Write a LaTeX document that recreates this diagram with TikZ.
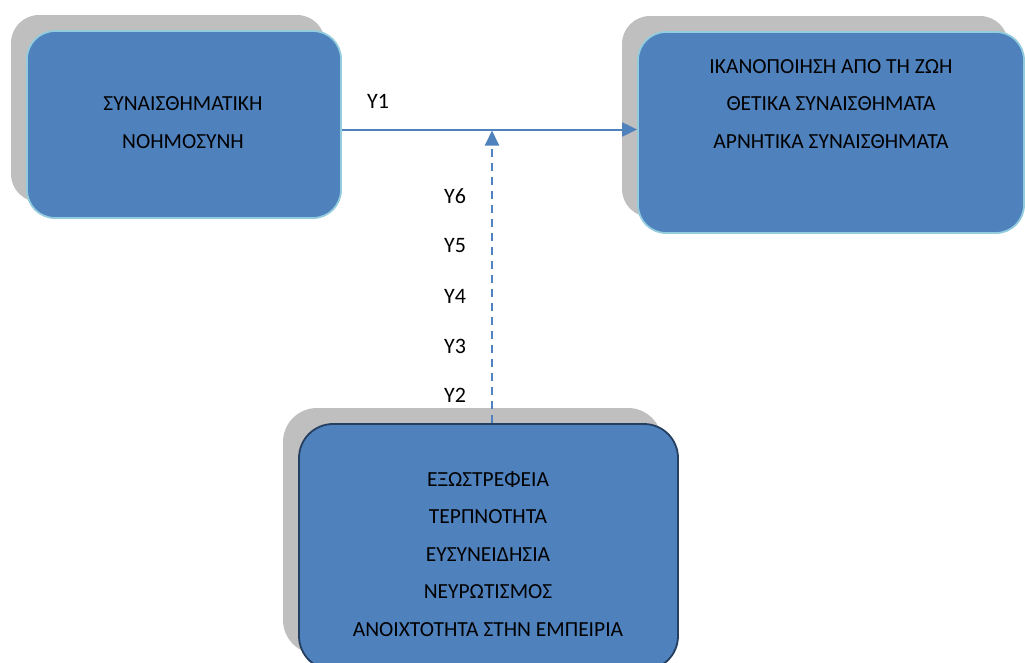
\documentclass[tikz,border=0pt]{standalone}
\usepackage{fontspec}
\setmainfont{Carlito}
\usetikzlibrary{arrows.meta,shadows,calc}
\definecolor{boxblue}{HTML}{4F81BD}
\definecolor{lightedge}{HTML}{93CDDD}
\definecolor{darkedge}{HTML}{243F60}
\definecolor{shadowgray}{HTML}{BFBFBF}
\tikzset{
  box/.style={rectangle, rounded corners=28pt, fill=boxblue, line width=1.8pt, inner sep=0pt,
    general shadow={fill=shadowgray, shadow xshift=-16pt, shadow yshift=16pt}},
  txt/.style={align=center, font=\fontsize{21.5}{37.5}\selectfont, text=black, inner sep=0pt},
  ylab/.style={font=\fontsize{22}{24}\selectfont, text=black, inner sep=0pt},
  conn/.style={draw=boxblue, line width=2pt, -{Triangle[length=15pt,width=14pt]}},
}
\begin{document}
\begin{tikzpicture}[x=1pt,y=-1pt]
\useasboundingbox (0,0) rectangle (1025,662);
\node[box, draw=lightedge, minimum width=314pt, minimum height=187pt] (b1) at (184,124.5) {};
\node[box, draw=lightedge, minimum width=386pt, minimum height=201pt] (b2) at (831,132.5) {};
\node[box, draw=darkedge, rounded corners=34pt, minimum width=379pt, minimum height=246pt] (b3) at (488.5,547) {};
\node[txt] (t1) at (183,122.5) {ΣΥΝΑΙΣΘΗΜΑΤΙΚΗ\\ΝΟΗΜΟΣΥΝΗ};
\node[txt] (t2) at (831,104) {ΙΚΑΝΟΠΟΙΗΣΗ ΑΠΟ ΤΗ ΖΩΗ\\ΘΕΤΙΚΑ ΣΥΝΑΙΣΘΗΜΑΤΑ\\ΑΡΝΗΤΙΚΑ ΣΥΝΑΙΣΘΗΜΑΤΑ};
\node[txt] (t3) at (488,554) {ΕΞΩΣΤΡΕΦΕΙΑ\\ΤΕΡΠΝΟΤΗΤΑ\\ΕΥΣΥΝΕΙΔΗΣΙΑ\\ΝΕΥΡΩΤΙΣΜΟΣ\\ΑΝΟΙΧΤΟΤΗΤΑ ΣΤΗΝ ΕΜΠΕΙΡΙΑ};
\coordinate (yc) at (0,129.5);
\coordinate (dx) at (492,0);
\draw[conn] (b1.east |- yc) -- (b2.west |- yc);
\draw[conn, dash pattern=on 8pt off 6pt] (b3.north -| dx) -- ($(dx |- yc)+(0,1)$);
\node[ylab] (y1) at (378,101) {Y1};
\node[ylab] (y6) at (455,196) {Y6};
\node[ylab] (y5) at (455,246) {Y5};
\node[ylab] (y4) at (455,296) {Y4};
\node[ylab] (y3) at (455,346) {Y3};
\node[ylab] (y2) at (455,395) {Y2};
\end{tikzpicture}
\end{document}
